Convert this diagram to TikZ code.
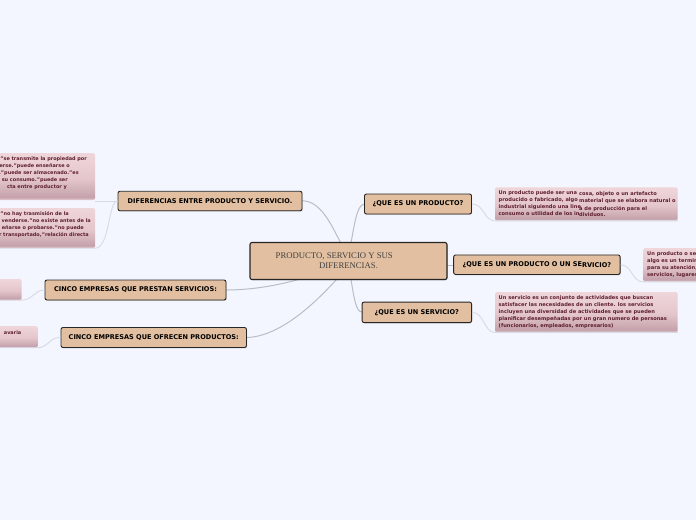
\documentclass[tikz,border=0pt]{standalone}
\usepackage{fontspec}
\setmainfont{DejaVu Sans}
\newfontfamily\rootfont{Liberation Serif}
\usetikzlibrary{calc,shadows}
\definecolor{pagebg}{HTML}{F3F6FF}
\definecolor{boxfill}{HTML}{E2BFA0}
\definecolor{leafink}{HTML}{5E1F2E}
\definecolor{linkmain}{HTML}{B9BDC4}
\definecolor{linkleaf}{HTML}{D6DAE4}
\definecolor{leaftop}{HTML}{EFD6DA}
\definecolor{leafmid}{HTML}{E4C6CC}
\definecolor{leaflow}{HTML}{C5A2AB}
\definecolor{leafend}{HTML}{E6CDD2}
\pgfdeclareverticalshading{leafgrad}{100bp}{
  color(0bp)=(leafend);
  color(25bp)=(leafend);
  color(28bp)=(leaflow);
  color(48bp)=(leafmid);
  color(75bp)=(leaftop);
  color(100bp)=(leaftop)}
\tikzset{
  topicbox/.style={draw=black!85,line width=.9pt,fill=boxfill,rounded corners=2pt,inner sep=0pt,
    font=\bfseries\fontsize{6.55}{7}\selectfont,text=black,
    drop shadow={shadow xshift=.6pt,shadow yshift=-.9pt,opacity=.35}},
  rootbox/.style={topicbox,line width=1.1pt},
  leafbox/.style={rounded corners=1.5pt,inner sep=0pt,shading=leafgrad},
  leaftext/.style={inner sep=0pt,text=leafink,font=\bfseries\fontsize{5.1}{6}\selectfont},
  sidetext/.style={leaftext,font=\bfseries\fontsize{4.95}{6}\selectfont},
  mainlink/.style={draw=linkmain,line width=1pt},
  leaflink/.style={draw=linkleaf,line width=.9pt},
}
\begin{document}
\begin{tikzpicture}[x=1pt,y=1pt]
\path[use as bounding box,fill=pagebg] (0,0) rectangle (696,-520);
\clip (0,0) rectangle (696,-520);

% leaves
\node[leafbox,minimum width=105pt,minimum height=47pt] (L1) at (42.5,-176.5) {};
\node[leafbox,minimum width=105pt,minimum height=40pt] (L2) at (42.5,-228) {};
\node[leafbox,minimum width=31.5pt,minimum height=21pt] (L3) at (5.75,-289.5) {};
\node[leafbox,minimum width=47.7pt,minimum height=21.5pt] (L4) at (13.85,-336.8) {};
\node[leafbox,minimum width=182.7pt,minimum height=33.4pt] (R1) at (586.35,-204) {};
\node[leafbox,minimum width=72pt,minimum height=33.7pt] (R2) at (679.3,-264.85) {};
\node[leafbox,minimum width=182.7pt,minimum height=40.3pt] (R3) at (586.35,-312.15) {};

% main links
\coordinate (rootN) at (348.5,-242.5);
\coordinate (rootS) at (348.5,-279.5);
\draw[mainlink] (302,-200.8) .. controls (320,-200.8) and (330,-222) .. ($(rootN)+(-8,0)$);
\draw[mainlink] ($(rootN)+(2.5,0)$) .. controls (355,-222) and (357,-204) .. (365,-204);
\draw[mainlink] ($(rootS)+(2.5,0)$) .. controls (354,-298) and (356,-312) .. (362,-312);
\draw[mainlink] (447,-265) -- (454,-265);
\draw[mainlink] (226,-290) .. controls (250,-290) and (275,-286) .. ($(rootS)+(-50,0)$);
\draw[mainlink] (246,-337.5) .. controls (280,-337) and (315,-303) .. ($(rootS)+(-12,0)$);

% main boxes
\node[rootbox,minimum width=197pt,minimum height=37pt] (root) at (348.5,-261) {};
\node[topicbox,minimum width=184pt,minimum height=19.5pt] (n1) at (210,-201) {DIFERENCIAS ENTRE PRODUCTO Y SERVICIO.};
\node[topicbox,minimum width=181pt,minimum height=20pt] (n2) at (135.5,-290) {CINCO EMPRESAS QUE PRESTAN SERVICIOS:};
\node[topicbox,minimum width=185.5pt,minimum height=20pt] (n3) at (153.75,-337.5) {CINCO EMPRESAS QUE OFRECEN PRODUCTOS:};
\node[topicbox,minimum width=107pt,minimum height=20pt] (r1) at (418,-204) {¿QUE ES UN PRODUCTO?};
\node[topicbox,minimum width=166.5pt,minimum height=19.5pt] (r2) at (536.9,-264.7) {¿QUE ES UN PRODUCTO O UN SE\raisebox{-.8pt}{RVICIO?}};
\node[topicbox,minimum width=109.5pt,minimum height=20.5pt] (r3) at (416.8,-312.3) {¿QUE ES UN SERVICIO?};

% root text
\node[inner sep=0pt,anchor=west,text=black!75,font=\rootfont\fontsize{8.7}{10}\selectfont] (rt1) at (275.5,-256) {PRODUCTO, SERVICIO Y SUS};
\node[inner sep=0pt,anchor=west,text=black!75,font=\rootfont\fontsize{8.7}{10}\selectfont] (rt2) at (319,-266) {DIFERENCIAS.};

% leaf links
\draw[leaflink] (n1.west) -- (L1.east |- n1.west);
\draw[leaflink] (n1.west) .. controls (108,-201) and (110,-248) .. (L2.south east) -- (L2.south west);
\draw[leaflink] (n2.west) .. controls (34,-290) and (33,-300) .. (L3.south east) -- (L3.south west);
\draw[leaflink] (n3.west) .. controls (50,-337) and (48,-347.5) .. (L4.south east) -- (L4.south west);
\draw[leaflink] (r1.east) .. controls (484,-204) and (484,-220.7) .. (R1.south west) -- (R1.south east);
\draw[leaflink] (r2.east) .. controls (632,-265) and (632,-281.7) .. (R2.south west) -- (R2.south east);
\draw[leaflink] (r3.east) .. controls (484,-312) and (484,-332.3) .. (R3.south west) -- (R3.south east);

% leaf texts, left side
\node[sidetext,anchor=east] (a1) at (87,-159) {"se transmite la propiedad por};
\node[sidetext,anchor=east] (a2) at (70,-166) {erse."puede enseñarse o};
\node[sidetext,anchor=east] (a3) at (79,-173.3) {."puede ser almacenado."es};
\node[sidetext,anchor=east] (a4) at (68,-180) {su consumo."puede ser};
\node[sidetext,anchor=east] (a5) at (67,-187.3) {cta entre productor y};
\node[sidetext,anchor=east] (b1) at (69,-214) {"no hay trasmisión de la};
\node[sidetext,anchor=east] (b2) at (91,-221) {venderse."no existe antes de la};
\node[sidetext,anchor=east] (b3) at (84,-228) {eñarse o probarse."no puede};
\node[sidetext,anchor=east] (b4) at (89,-235) {r transportado,"relación directa};
\node[sidetext,anchor=east] (c1) at (21.5,-332.5) {avaria};

% leaf texts, right side
\node[leaftext,anchor=west] (d1) at (498.5,-192.7) {Un producto puede ser una};
\node[leaftext,anchor=west] (d2) at (498.5,-200) {producido o fabricado, algo};
\node[leaftext,anchor=west] (d3) at (498.5,-207) {industrial siguiendo una line};
\node[leaftext,anchor=west] (d4) at (498.5,-214) {consumo o utilidad de los in};
\node[leaftext,anchor=west] (e1) at (579,-194) {cosa, objeto o un artefacto};
\node[leaftext,anchor=west] (e2) at (579,-201) {material que se elabora natural o};
\node[leaftext,anchor=west] (e3) at (579,-208.5) {a de producción para el};
\node[leaftext,anchor=west] (e4) at (579,-215) {dividuos.};
\node[leaftext,anchor=west] (f1) at (647,-254) {Un producto o se};
\node[leaftext,anchor=west] (f2) at (647,-261) {algo es un termin};
\node[leaftext,anchor=west] (f3) at (647,-268) {para su atención,};
\node[leaftext,anchor=west] (f4) at (647,-275) {servicios, lugares};
\node[leaftext,anchor=west] (g1) at (498.5,-297.7) {Un servicio es un conjunto de actividades que buscan};
\node[leaftext,anchor=west] (g2) at (498.5,-304.8) {satisfacer las necesidades de un cliente. los servicios};
\node[leaftext,anchor=west] (g3) at (498.5,-312) {incluyen una diversidad de actividades que se pueden};
\node[leaftext,anchor=west] (g4) at (498.5,-319) {planificar desempeñadas por un gran numero de personas};
\node[leaftext,anchor=west] (g5) at (498.5,-326) {(funcionarios, empleados, empresarios)};
\end{tikzpicture}
\end{document}
